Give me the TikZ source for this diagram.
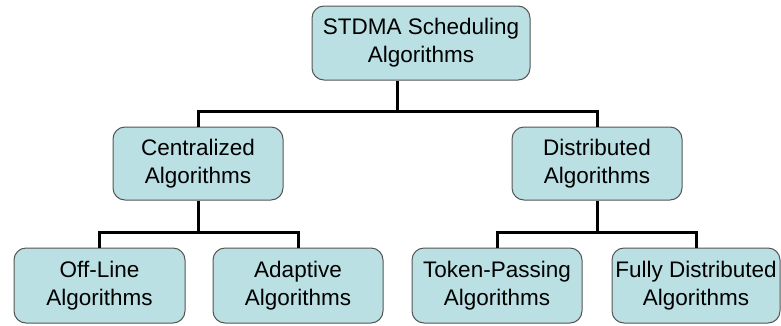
\documentclass[tikz,border=0pt]{standalone}
\usepackage{fontspec}
\setmainfont{Liberation Sans}
\usetikzlibrary{calc}
\definecolor{boxfill}{RGB}{186,224,227}
\definecolor{boxline}{RGB}{85,85,85}
\tikzset{
  algbox/.style={draw=boxline, line width=1pt, fill=boxfill, rounded corners=12pt,
    inner sep=0pt, align=center, text=black,
    font=\fontsize{22.5}{28}\selectfont},
  conn/.style={draw=black, line width=3pt}
}
\begin{document}
\begin{tikzpicture}[x=1pt, y=-1pt]
  \useasboundingbox (0,0) rectangle (781,325);
  % tree of scheduling algorithm families
  \node[algbox, minimum width=218pt, minimum height=74pt] (top) at (421,43) {STDMA Scheduling\\Algorithms};
  \node[algbox, minimum width=170pt, minimum height=73pt] (cen) at (198,163.5) {Centralized\\Algorithms};
  \node[algbox, minimum width=170pt, minimum height=73pt] (dis) at (597,163.5) {Distributed\\Algorithms};
  \node[algbox, minimum width=171pt, minimum height=75pt] (off) at (99.5,285.5) {Off-Line\\Algorithms};
  \node[algbox, minimum width=170pt, minimum height=75pt] (ada) at (298,285.5) {Adaptive\\Algorithms};
  \node[algbox, minimum width=170pt, minimum height=75pt] (tok) at (497,285.5) {Token-Passing\\Algorithms};
  \node[algbox, minimum width=168pt, minimum height=75pt] (ful) at (696,285.5) {Fully Distributed\\Algorithms};

  % connectors
  \coordinate (hub) at (397,112);
  \draw[conn] ($(top.south)+(-24,0)$) -- (hub);
  \draw[conn] (cen.north) -- ++(0,-15) -| (dis.north);
  \draw[conn] (cen.south) -- ++(0,33) coordinate (lhub);
  \draw[conn] (off.north) -- ++(0,-15) -| (ada.north);
  \draw[conn] (dis.south) -- ++(0,33) coordinate (rhub);
  \draw[conn] (tok.north) -- ++(0,-15) -| (ful.north);
\end{tikzpicture}
\end{document}
